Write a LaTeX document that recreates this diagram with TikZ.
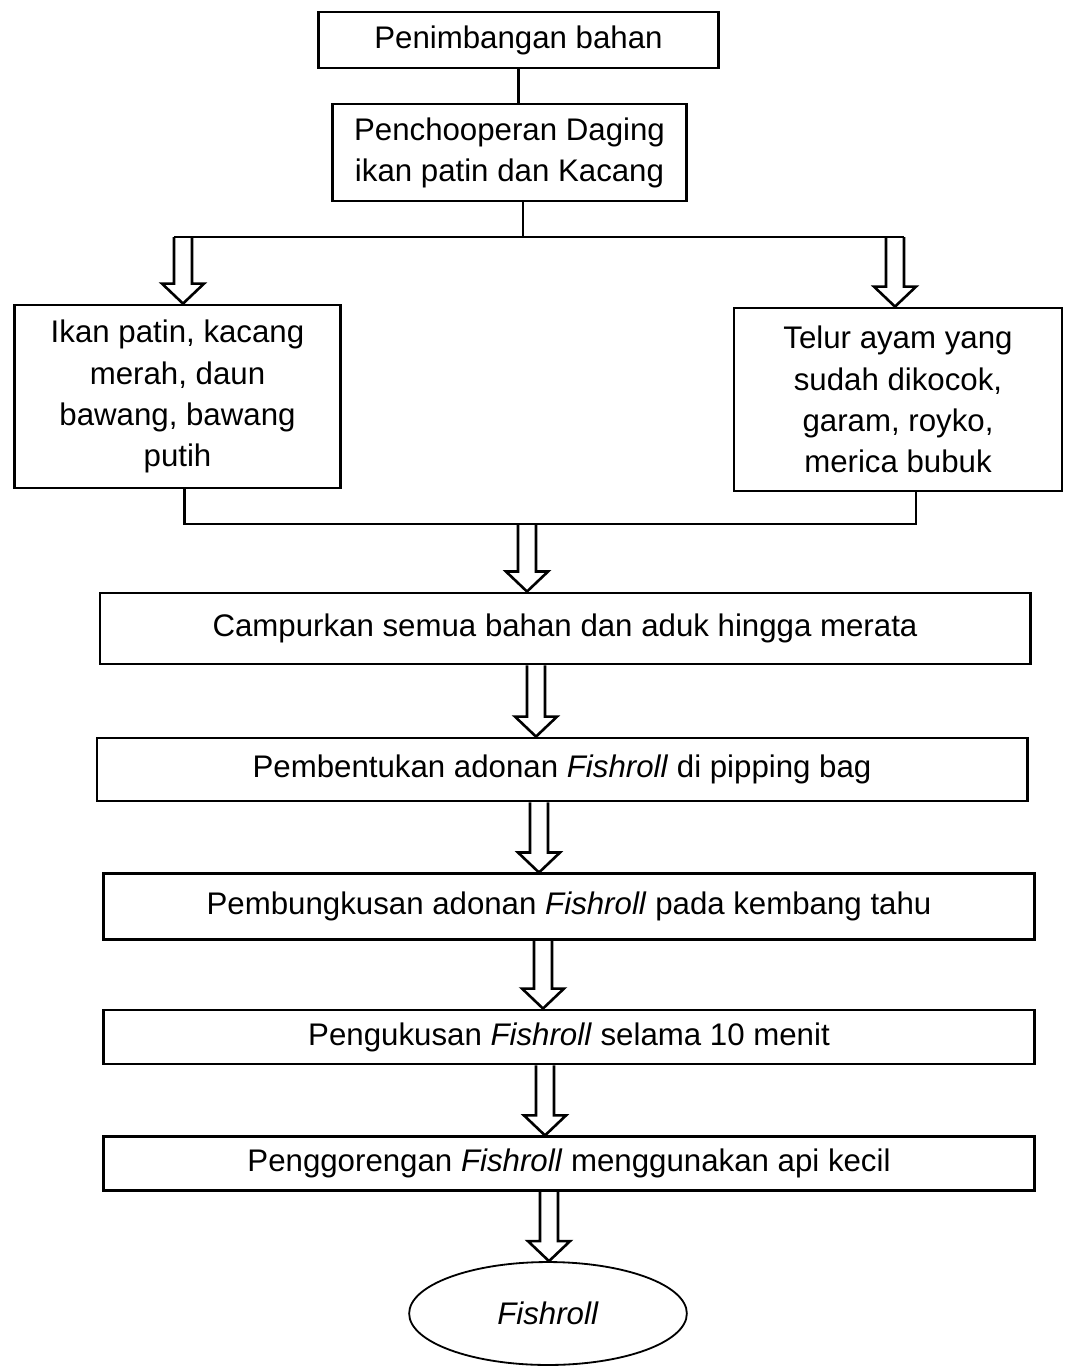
\documentclass[tikz,border=0pt]{standalone}
\usepackage{fontspec}
\setmainfont{Liberation Sans}
\usetikzlibrary{shapes.geometric,calc}

\tikzset{
    procbox/.style={draw, line width=1.1pt, align=center, inner sep=0pt,
        font=\fontsize{12}{15.8}\selectfont},
    endbox/.style={draw, ellipse, line width=0.7pt, inner sep=0pt,
        font=\fontsize{12}{15.8}\selectfont},
    link/.style={line width=1.1pt},
    hollow/.style={line width=1pt, line join=miter},
}

% open block arrow from a coordinate down to a node anchor
\newcommand{\hollowarrow}[2]{%
    \draw[hollow] let \p1=(#1), \p2=(#1 |- #2) in
        (\x1-3.46pt,\y1) -- (\x1-3.46pt,\y2+7.68pt) -- (\x1-8.07pt,\y2+7.68pt)
        -- (\x1,\y2) -- (\x1+8.07pt,\y2+7.68pt) -- (\x1+3.46pt,\y2+7.68pt)
        -- (\x1+3.46pt,\y1);}

\begin{document}
\begin{tikzpicture}[x=0.0135cm, y=-0.0135cm]
            \useasboundingbox (0,0) rectangle (1064,1366);

            % Boxes
            \node[procbox, minimum width=5.41cm, minimum height=0.756cm] (timbang) at (518.5,40) {Penimbangan bahan};
            \node[procbox, minimum width=4.79cm, minimum height=1.31cm] (chopper) at (509.5,152.5) {Penchooperan Daging\\ikan patin dan Kacang};
            \node[procbox, minimum width=4.41cm, minimum height=2.47cm] (ikan) at (177.5,396.5) {Ikan patin, kacang\\merah, daun\\bawang, bawang\\putih};
            \node[procbox, minimum width=4.43cm, minimum height=2.47cm] (telur) at (898,399.5) {Telur ayam yang\\sudah dikocok,\\garam, royko,\\merica bubuk};
            \node[procbox, minimum width=12.56cm, minimum height=0.96cm] (campur) at (565,628.5) {Campurkan semua bahan dan aduk hingga merata};
            \node[procbox, minimum width=12.56cm, minimum height=0.85cm] (bentuk) at (562,769.5) {Pembentukan adonan \textit{Fishroll} di pipping bag};
            \node[procbox, minimum width=12.58cm, minimum height=0.88cm] (bungkus) at (569,906.5) {Pembungkusan adonan \textit{Fishroll} pada kembang tahu};
            \node[procbox, minimum width=12.58cm, minimum height=0.73cm] (kukus) at (569,1037) {Pengukusan \textit{Fishroll} selama 10 menit};
            \node[procbox, minimum width=12.58cm, minimum height=0.72cm] (goreng) at (569,1163.5) {Penggorengan \textit{Fishroll} menggunakan api kecil};
            \node[endbox, minimum width=3.75cm, minimum height=1.39cm] (hasil) at (548,1313.5) {\textit{Fishroll}};

            % Split
            \coordinate (fork) at (523,237);
            \coordinate (forkL) at (183,237);
            \coordinate (forkR) at (895,237);
            \draw[link] (timbang.south) -- (timbang.south |- chopper.north);
            \draw[link] (chopper.south -| fork) -- (fork);
            \draw[link] ([xshift=-3.46pt]forkL) -- ([xshift=3.46pt]forkR);
            \hollowarrow{forkL}{ikan.north}
            \hollowarrow{forkR}{telur.north}

            % Merge
            \coordinate (joinL) at (184.5,524);
            \coordinate (joinR) at (916,524);
            \coordinate (merge) at (527,524);
            \draw[link] (ikan.south -| joinL) -- (joinL) -- (joinR) -- (telur.south -| joinR);
            \hollowarrow{merge}{campur.north}

            % Steps
            \foreach \from/\to/\sx in {campur/bentuk/536, bentuk/bungkus/539, bungkus/kukus/543, kukus/goreng/545, goreng/hasil/549} {
                \coordinate (s) at (\sx,0 |- \from.south);
                \hollowarrow{s}{\to.north}
            }

        \end{tikzpicture}
\end{document}
